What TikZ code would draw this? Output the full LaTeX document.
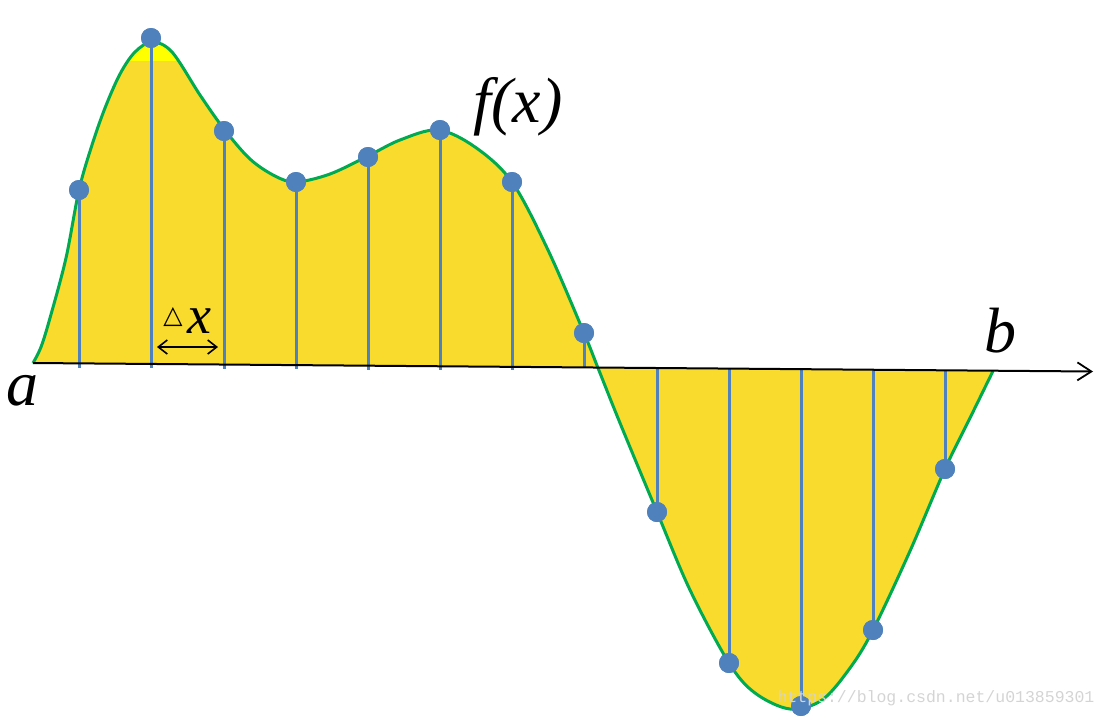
\documentclass[tikz,border=0pt]{standalone}
\usepackage{fontspec}
\setmainfont{Liberation Serif}
\newfontfamily\symfont{DejaVu Sans}
\newfontfamily\wmfont{Liberation Mono}
\usetikzlibrary{arrows.meta}
\definecolor{fillyel}{RGB}{249,219,46}
\definecolor{brightyel}{RGB}{255,255,0}
\definecolor{curvegreen}{RGB}{0,170,80}
\definecolor{dotblue}{RGB}{79,129,189}
\definecolor{wmgray}{RGB}{212,212,212}
\tikzset{
  curvepts/.style={insert path={plot[smooth,tension=0.55] coordinates{
    (33,363) (41,347) (50,318) (66,258) (79,190) (92,145) (105,108) (120,74)
    (135,52) (152,42) (172,52) (200,95) (224,129) (250,159) (275,176) (296,182)
    (330,174) (368,156) (400,140) (438,130) (475,147) (512,182)
    (548,250) (584,333) (598,368) (620,423) (657,512) (690,590) (729,663)
    (755,693) (790,709) (822,700) (850,668) (873,630) (910,551) (945,469)
    (970,418) (993,371)}}},
  dot/.style={circle,fill=dotblue,inner sep=0pt,minimum size=20pt},
  stem/.style={draw=dotblue,line width=3pt},
  mathlbl/.style={font=\fontsize{64}{64}\selectfont\itshape,inner sep=0pt,anchor=base},
}
\begin{document}
\begin{tikzpicture}[x=1pt,y=-1pt]
\useasboundingbox (0,0) rectangle (1107,718);
% area
\fill[fillyel,curvepts] -- cycle;
\begin{scope}
  \clip[curvepts] -- cycle;
  \fill[brightyel] (120,30) rectangle (190,61);
\end{scope}
\draw[curvegreen,line width=3pt,curvepts];
% axis
\coordinate (A) at (33,363);
\coordinate (B) at (1093,371.5);
% stems and dots
\foreach \i/\x/\y/\e in {1/79/190/368,2/151/38/368,3/224/131/369,4/296/182/369,
   5/368/157/370,6/440/130/370,7/512/182/370,8/584/333/367.5,
   9/657/512/368,10/729/663/368.6,11/801/706/369.2,12/873/630/369.7,13/945/469/370.3}{
  \coordinate (e\i) at (\x,\e);
  \node[dot] (p\i) at (\x,\y) {};
  \path[stem] (p\i.center) -- (e\i);
  \node[dot] at (p\i) {};
}
\draw[line width=2pt,-{Straight Barb[length=14pt,width=18pt,line width=1.8pt]}] (A) -- (B);
% labels
\node[mathlbl] (la) at (22,405) {a};
\node[mathlbl] (lb) at (1000,352) {b};
\node[mathlbl] (lf) at (518,122) {f(x)};
\node[font=\symfont\fontsize{25}{25}\selectfont,inner sep=0pt,anchor=base] (tri) at (173,323) {△};
\node[font=\fontsize{54}{54}\selectfont\itshape,inner sep=0pt,anchor=base] (lx) at (199,333) {x};
\coordinate (d1) at (157,347);
\coordinate (d2) at (218,347);
\draw[line width=1.6pt,{Straight Barb[length=9pt,width=14pt]}-{Straight Barb[length=9pt,width=14pt]}] (d1) -- (d2);
\node[font=\wmfont\fontsize{16.5}{16.5}\selectfont,text=wmgray,inner sep=0pt] (wm) at (936,698) {https://blog.csdn.net/u013859301};
\end{tikzpicture}
\end{document}
